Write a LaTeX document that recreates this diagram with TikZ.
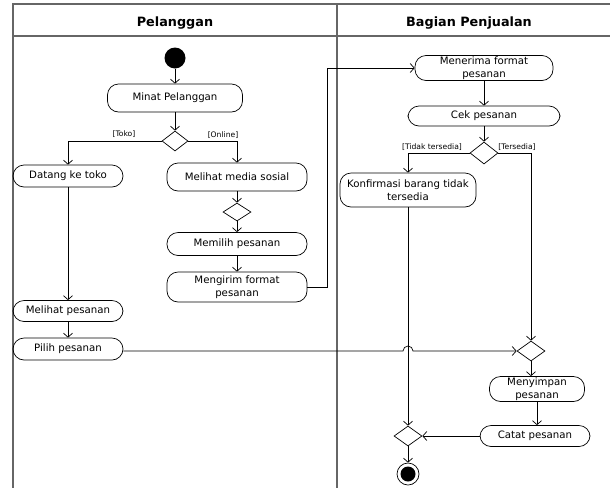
\documentclass[tikz,border=0pt]{standalone}
\usepackage{fontspec}
\setmainfont{DejaVu Sans}
\usetikzlibrary{arrows.meta,shapes.geometric}
\begin{document}
\begin{tikzpicture}[x=1pt,y=-1pt,
  lane/.style={draw=black!60,line width=1.2pt},
  flow/.style={draw=black,line width=0.7pt,-{Straight Barb[length=4pt,width=9pt]}},
  act/.style={draw=black,line width=0.7pt,rounded corners=11pt,align=center,
    inner sep=1pt,font=\fontsize{10.2}{12.5}\selectfont},
  dec/.style={draw=black,line width=0.7pt,diamond,inner sep=0pt,
    minimum width=28pt,minimum height=20pt},
  guard/.style={font=\fontsize{7.6}{9}\selectfont,inner sep=0pt},
  title/.style={font=\fontsize{12.8}{15}\selectfont\bfseries}]
\useasboundingbox (0,0) rectangle (610,488);

% swimlane frame
\draw[lane] (610,4) -- (13,4) -- (13,488);
\draw[lane] (13,36) -- (610,36);
\draw[lane] (337,4) -- (337,488);
\node[title] (t1) at (175,23) {Pelanggan};
\node[title] (t2) at (469,23) {Bagian Penjualan};

% Pelanggan
\node[circle,fill=black,minimum size=21pt,inner sep=0pt] (start) at (175,58) {};
\node[act,minimum width=135pt,minimum height=28pt] (minat) at (175,98) {Minat Pelanggan};
\node[dec,minimum width=26pt] (d1) at (175,141) {};
\node[act,minimum width=110pt,minimum height=22pt] (datang) at (68,176) {Datang ke toko};
\node[act,minimum width=140pt,minimum height=28pt] (media) at (237,177) {Melihat media sosial};
\node[dec,minimum height=18pt] (d2) at (237,212) {};
\node[act,minimum width=140pt,minimum height=23pt] (memilih) at (237,244) {Memilih pesanan};
\node[act,minimum width=140pt,minimum height=30pt] (kirim) at (237,287) {Mengirim format\\pesanan};
\node[act,minimum width=110pt,minimum height=21pt] (lihat) at (68,311) {Melihat pesanan};
\node[act,minimum width=110pt,minimum height=22pt] (pilih) at (68,349) {Pilih pesanan};

% Bagian Penjualan
\node[act,minimum width=138pt,minimum height=25pt] (terima) at (484,68) {Menerima format\\pesanan};
\node[act,minimum width=152pt,minimum height=20pt] (cek) at (484,116) {Cek pesanan};
\node[dec,minimum height=22pt] (d3) at (484,153) {};
\node[act,minimum width=136pt,minimum height=34pt] (konf) at (408,190) {Konfirmasi barang tidak\\tersedia};
\node[dec] (d4) at (531,351) {};
\node[act,minimum width=95pt,minimum height=25pt] (simpan) at (537,389) {Menyimpan\\pesanan};
\node[act,minimum width=110pt,minimum height=21pt] (catat) at (535,436) {Catat pesanan};
\node[dec] (d5) at (408,436) {};
\node[circle,draw=black,line width=0.7pt,minimum size=22pt,inner sep=0pt] (end) at (408,474) {};
\node[circle,fill=black,minimum size=15pt,inner sep=0pt] (endin) at (end) {};

% flows
\draw[flow] (start) -- (minat);
\draw[flow] (minat) -- (d1);
\draw[flow] (d1.west) -| (datang.north);
\draw[flow] (d1.east) -| (media.north);
\node[guard] (g1) at (124,134) {[Toko]};
\node[guard] (g2) at (223,135) {[Online]};
\draw[flow] (datang) -- (lihat);
\draw[flow] (lihat) -- (pilih);
\draw[flow] (media) -- (d2);
\draw[flow] (d2) -- (memilih);
\draw[flow] (memilih) -- (kirim);
\coordinate (bend) at (327,287);
\draw[flow] (kirim.east) -- (bend) |- (terima.west);
\draw[flow] (terima) -- (cek);
\draw[flow] (cek) -- (d3);
\draw[flow] (d3.west) -| (konf.north);
\draw[flow] (d3.east) -| (d4.north);
\node[guard] (g3) at (432,147) {[Tidak tersedia]};
\node[guard] (g4) at (517,147) {[Tersedia]};
\coordinate (hopa) at (403,351);
\draw[flow] (pilih.east |- hopa) -- (hopa) arc[start angle=180,end angle=0,radius=5pt] -- (d4.west);
\draw[flow] (konf.south) -- (d5.north);
\draw[flow] (d4.south) -- (d4.south |- simpan.north);
\draw[flow] (simpan.south) -- (simpan.south |- catat.north);
\draw[flow] (catat.west) -- (d5.east);
\draw[flow] (d5.south) -- (end.north);
\end{tikzpicture}
\end{document}
